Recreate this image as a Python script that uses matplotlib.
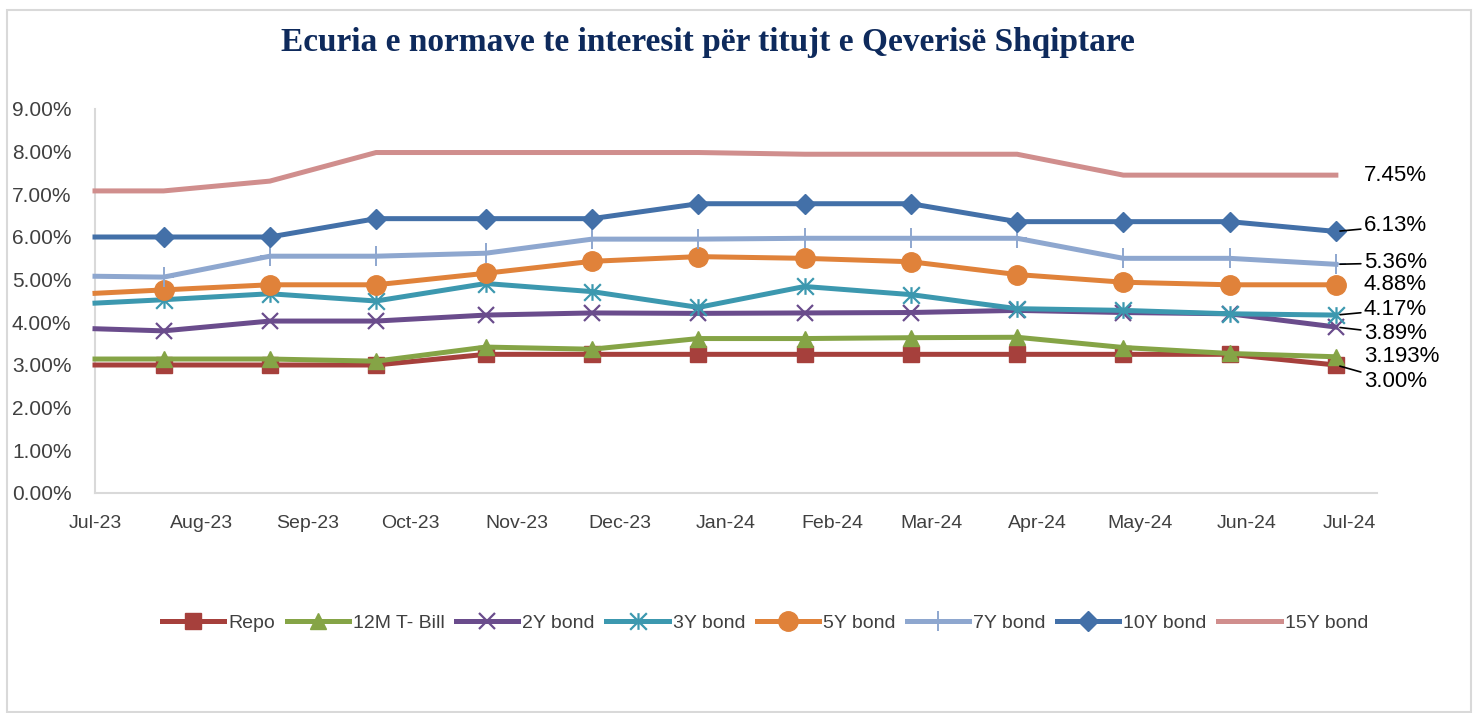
import matplotlib
matplotlib.use('Agg')
import matplotlib.pyplot as plt
import matplotlib.dates as mdates
from matplotlib.patches import Rectangle
from matplotlib.path import Path
from matplotlib.ticker import FuncFormatter
import numpy as np
import datetime as dt

# data
dates = ["2023-07-01", "2023-07-21", "2023-08-21", "2023-09-21", "2023-10-23", "2023-11-23",
         "2023-12-24", "2024-01-24", "2024-02-24", "2024-03-26", "2024-04-26", "2024-05-27",
         "2024-06-27"]
repo = [3.00, 3.00, 3.00, 3.00, 3.25, 3.25, 3.25, 3.25, 3.25, 3.25, 3.25, 3.25, 3.00]
tbill_12m = [3.14, 3.14, 3.14, 3.09, 3.42, 3.37, 3.62, 3.62, 3.64, 3.65, 3.41, 3.27, 3.193]
bond_2y = [3.85, 3.80, 4.03, 4.03, 4.17, 4.22, 4.21, 4.22, 4.23, 4.28, 4.23, 4.20, 3.89]
bond_3y = [4.45, 4.53, 4.67, 4.50, 4.91, 4.72, 4.35, 4.84, 4.65, 4.32, 4.28, 4.20, 4.17]
bond_5y = [4.68, 4.76, 4.88, 4.88, 5.15, 5.43, 5.54, 5.50, 5.42, 5.12, 4.94, 4.88, 4.88]
bond_7y = [5.08, 5.06, 5.55, 5.55, 5.62, 5.95, 5.95, 5.97, 5.97, 5.97, 5.50, 5.50, 5.36]
bond_10y = [6.00, 6.00, 6.00, 6.43, 6.43, 6.43, 6.78, 6.78, 6.78, 6.36, 6.36, 6.36, 6.13]
bond_15y = [7.08, 7.08, 7.31, 7.98, 7.98, 7.98, 7.98, 7.94, 7.94, 7.94, 7.45, 7.45, 7.45]
end_labels = ["3.00%", "3.193%", "3.89%", "4.17%", "4.88%", "5.36%", "6.13%", "7.45%"]

x = [dt.datetime.strptime(d, "%Y-%m-%d") for d in dates]

# excel style star: an X with a vertical bar through it
star = Path([(0, -1), (0, 1), (-1, -1), (1, 1), (-1, 1), (1, -1)],
            [Path.MOVETO, Path.LINETO, Path.MOVETO, Path.LINETO, Path.MOVETO, Path.LINETO])

series = [
    ("Repo", repo, "#A6403C", "s", 11, 0),
    ("12M T- Bill", tbill_12m, "#85A446", "^", 12, 0),
    ("2Y bond", bond_2y, "#6A4C8C", "x", 12, 1.6),
    ("3Y bond", bond_3y, "#3C98AF", star, 12, 1.6),
    ("5Y bond", bond_5y, "#E0823A", "o", 14, 0),
    ("7Y bond", bond_7y, "#8EA7CF", "+", 15, 1.4),
    ("10Y bond", bond_10y, "#4370A8", "D", 10, 0),
    ("15Y bond", bond_15y, "#D08E8D", "None", 0, 0),
]

# offsets of the end labels (points) and whether they get a leader line
label_off = [(20, -12, True), (20, 0, False), (20, -5, True), (20, 4, True),
             (20, 0, False), (20, 1, True), (20, 4, True), (20, 0, False)]

plt.rcParams['font.family'] = ['Liberation Sans', 'DejaVu Sans']

fig = plt.figure(figsize=(14.76, 7.13), dpi=100)
fig.patches.append(Rectangle((7 / 1476, 1 - 712 / 713), (1471 - 7) / 1476, (712 - 10) / 713,
                             transform=fig.transFigure, fill=False, ec="#D9D9D9", lw=1.5))
ax = fig.add_axes([95 / 1476, 1 - 493 / 713, (1377 - 95) / 1476, (493 - 109) / 713])

for (name, vals, col, mk, ms, mew) in series:
    ax.plot(x, vals, color=col, lw=3.6, marker=mk, ms=ms, mew=mew if mew else 1,
            mec=col, mfc=col, markevery=list(range(1, len(x))), label=name,
            solid_joinstyle='miter', clip_on=False, zorder=3)

for i, (name, vals, col, mk, ms, mew) in enumerate(series):
    dx, dy, leader = label_off[i]
    ap = dict(arrowstyle='-', color='black', lw=1.2, shrinkA=0, shrinkB=3) if leader else None
    ax.annotate(end_labels[i], xy=(x[-1], vals[-1]), xytext=(dx, dy), textcoords='offset points',
                fontsize=16, va='center', ha='left', color='black', arrowprops=ap,
                annotation_clip=False)

ax.set_ylim(0, 9)
ax.set_yticks(np.arange(0, 10, 1))
ax.yaxis.set_major_formatter(FuncFormatter(lambda v, p: f"{v:.2f}%"))
ax.set_xlim(dt.datetime(2023, 7, 1), dt.datetime(2024, 7, 9))
ax.xaxis.set_major_locator(mdates.MonthLocator())
ax.xaxis.set_major_formatter(mdates.DateFormatter("%b-%y"))

for s in ["top", "right"]:
    ax.spines[s].set_visible(False)
for s in ["left", "bottom"]:
    ax.spines[s].set_color("#D9D9D9")
    ax.spines[s].set_linewidth(1.5)
ax.tick_params(axis='both', length=0, labelsize=14, colors="#404040")
ax.tick_params(axis='y', pad=17, labelsize=15)
ax.tick_params(axis='x', pad=16)

fig.text(708 / 1476, 1 - 43 / 713, "Ecuria e normave te interesit për titujt e Qeverisë Shqiptare",
         ha='center', va='center', fontsize=24, fontweight='bold', color="#0E2A5C",
         family=['Liberation Serif', 'DejaVu Serif'])

leg = fig.legend(loc='center', bbox_to_anchor=(765 / 1476, 1 - 623 / 713), ncol=8, frameon=False,
                 fontsize=14, handlelength=3.2, columnspacing=0.6, handletextpad=0.2,
                 labelcolor="#404040")

plt.savefig("out.png", dpi=100)
plt.close()
